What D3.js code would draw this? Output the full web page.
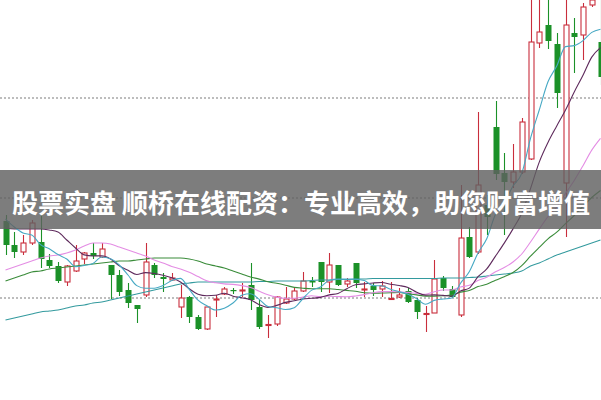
<!DOCTYPE html>
<html><head><meta charset="utf-8">
<script src="https://cdn.jsdelivr.net/npm/d3@7"></script>
<style>html,body{margin:0;padding:0;background:#fff;overflow:hidden}</style>
</head><body>
<svg id="chart" width="601" height="400"></svg>
<script>
// ---- data (prices) ----
const opens  = [10.77,10.53,10.46,10.55,10.56,10.38,10.32,10.16,10.27,10.39,
                10.45,10.41,10.33,10.23,10.08,9.93,10.03,10.33,10.21,10.18,
                9.91,10.01,9.81,9.69,9.98,10.04,10.08,10.07,10.13,9.91,
                9.725,9.74,9.95,9.99,10.07,10.17,10.36,10.16,10.33,10.14,
                10.35,10.08,10.12,10.09,9.985,10.01,10.07,9.98,9.835,9.85,
                10.20,10.09,9.83,10.61,10.46,10.93,11.71,11.25,11.16,11.26,
                11.39,12.55,12.73,12.54,11.15,12.65,12.63,12.93,12.56];
const closes = [10.53,10.46,10.55,10.75,10.39,10.32,10.17,10.32,10.37,10.45,
                10.42,10.49,10.23,10.06,9.95,9.89,10.36,10.23,10.19,10.20,
                10.00,9.81,9.69,9.91,9.99,10.09,10.07,10.08,9.98,9.71,
                9.735,10.01,9.99,10.07,10.17,10.155,10.16,10.33,10.13,10.17,
                10.15,10.09,10.08,10.12,9.995,10.03,9.96,9.86,9.845,10.19,
                10.10,10.01,10.60,10.41,11.13,10.81,11.24,11.16,11.26,11.76,
                12.56,12.66,12.57,12.05,12.73,12.61,12.91,12.98,12.21];
const highs  = [10.83,10.66,10.63,10.78,10.86,10.44,10.36,10.33,10.53,10.46,
                10.55,10.55,10.33,10.28,10.15,9.93,10.55,10.35,10.25,10.25,
                10.13,10.02,9.83,9.91,10.03,10.11,10.10,10.15,10.35,9.98,
                9.83,10.02,10.11,10.11,10.26,10.21,10.36,10.45,10.33,10.20,
                10.35,10.16,10.15,10.17,10.16,10.10,10.10,10.00,9.92,10.38,
                10.22,10.12,11.13,10.71,11.86,11.03,11.97,11.45,11.54,11.80,
                13.03,13.03,13.03,12.65,13.03,12.80,12.95,13.03,13.03];
const lows   = [10.43,10.40,10.43,10.53,10.30,10.30,10.15,10.12,10.26,10.34,
                10.39,10.40,9.99,10.02,9.90,9.75,10.01,10.20,10.06,10.17,
                9.80,9.75,9.68,9.68,9.81,10.03,10.04,10.01,9.88,9.69,
                9.60,9.72,9.94,9.98,10.06,10.11,10.06,10.05,10.12,10.11,
                10.10,10.01,10.02,10.01,9.98,10.00,9.95,9.79,9.66,9.85,
                10.07,10.00,9.81,10.40,10.44,10.63,11.18,10.63,11.10,11.24,
                11.38,12.50,12.49,11.90,10.61,12.25,12.38,12.91,12.13];

const ma5  = [10.79,10.71,10.65,10.63,10.534,10.492,10.434,10.39,10.314,10.326,
              10.346,10.41,10.392,10.33,10.23,10.124,10.098,10.098,10.124,10.174,
              10.196,10.086,9.978,9.922,9.88,9.898,9.95,10.028,10.042,9.986,
              9.915,9.903,9.885,9.903,9.995,10.079,10.109,10.177,10.189,10.189,
              10.188,10.174,10.124,10.122,10.087,10.063,10.037,9.993,9.937,9.976,
              9.99,10.00,10.148,10.262,10.45,10.592,10.838,10.95,11.12,11.246,
              11.596,11.88,12.162,12.32,12.514,12.524,12.574,12.656,12.688];
const ma10 = [10.70,10.69,10.69,10.69,10.69,10.68,10.66,10.58,10.50,10.431,
              10.42,10.423,10.391,10.322,10.278,10.235,10.254,10.245,10.227,10.202,
              10.16,10.092,10.038,10.023,10.027,10.047,10.018,10.003,9.982,9.933,
              9.906,9.926,9.956,9.972,9.99,9.997,10.006,10.031,10.046,10.092,
              10.133,10.141,10.15,10.155,10.138,10.125,10.105,10.058,10.029,10.031,
              10.026,10.018,10.07,10.099,10.213,10.291,10.419,10.549,10.691,10.848,
              11.094,11.359,11.556,11.72,11.88,12.06,12.227,12.409,12.504];
const ma20 = [10.28,10.31,10.34,10.37,10.40,10.42,10.43,10.45,10.48,10.52,
              10.55,10.55,10.54,10.51,10.48,10.45,10.42,10.38,10.35,10.316,
              10.29,10.257,10.214,10.172,10.152,10.141,10.136,10.124,10.104,10.067,
              10.033,10.009,9.997,9.998,10.009,10.022,10.012,10.017,10.014,10.012,
              10.02,10.034,10.053,10.064,10.064,10.061,10.056,10.045,10.038,10.062,
              10.08,10.08,10.11,10.127,10.175,10.208,10.262,10.304,10.36,10.44,
              10.56,10.689,10.813,10.91,11.046,11.175,11.323,11.479,11.597];
const ma30 = [10.17,10.20,10.23,10.26,10.27,10.29,10.30,10.31,10.32,10.33,
              10.34,10.35,10.36,10.37,10.37,10.38,10.39,10.40,10.40,10.40,
              10.40,10.39,10.37,10.34,10.32,10.30,10.27,10.24,10.21,10.189,
              10.162,10.147,10.128,10.106,10.098,10.093,10.093,10.093,10.085,10.076,
              10.067,10.053,10.048,10.05,10.052,10.056,10.043,10.031,10.019,10.019,
              10.022,10.029,10.059,10.076,10.114,10.138,10.177,10.213,10.255,10.324,
              10.418,10.506,10.592,10.658,10.744,10.825,10.917,11.005,11.075];
const ma60 = [9.78,9.80,9.82,9.84,9.86,9.87,9.88,9.90,9.92,9.93,
              9.95,9.96,9.98,10.00,10.02,10.04,10.06,10.08,10.10,10.12,
              10.14,10.15,10.16,10.16,10.16,10.16,10.16,10.16,10.16,10.165,
              10.165,10.17,10.17,10.17,10.17,10.175,10.18,10.18,10.185,10.185,
              10.19,10.19,10.195,10.195,10.195,10.195,10.195,10.195,10.195,10.195,
              10.20,10.20,10.20,10.205,10.21,10.22,10.23,10.24,10.25,10.27,
              10.32,10.35,10.39,10.43,10.46,10.49,10.52,10.55,10.58];

const gridValues = [12, 11, 10];
const bannerText = "股票实盘 顺桥在线配资：专业高效，助您财富增值";

// ---- drawing ----
const W = 601, H = 400;
const svg = d3.select("#chart");
const x = d3.scaleLinear().domain([0, opens.length - 1]).range([5.5, 600.5]);
const y = d3.scaleLinear().domain([8.98, 12.98]).range([H, 0]);

const UP = "#c92e3c", DOWN = "#1b9128";

svg.append("rect").attr("width", W).attr("height", H).attr("fill", "#fff");

svg.append("g").selectAll("line").data(gridValues).join("line")
  .attr("x1", 0).attr("x2", W)
  .attr("y1", d => y(d)).attr("y2", d => y(d))
  .attr("stroke", "#a8a8a8").attr("stroke-width", 1.5)
  .attr("stroke-dasharray", "2,2");

const candles = opens.map((o, i) => ({i, o, c: closes[i], h: highs[i], l: lows[i]}));
const cg = svg.append("g");
const bw = 6;
candles.forEach(d => {
  const cx = Math.round(x(d.i)) + 0.5;
  const up = d.c >= d.o;
  const top = y(Math.max(d.o, d.c)), bot = y(Math.min(d.o, d.c));
  const col = up ? UP : DOWN;
  if (up) {
    cg.append("line").attr("x1", cx).attr("x2", cx).attr("y1", y(d.h)).attr("y2", top)
      .attr("stroke", col).attr("stroke-width", 1.1);
    cg.append("line").attr("x1", cx).attr("x2", cx).attr("y1", bot).attr("y2", y(d.l))
      .attr("stroke", col).attr("stroke-width", 1.1);
    cg.append("rect").attr("x", cx - bw / 2 + 0.5).attr("y", top)
      .attr("width", bw - 1).attr("height", Math.max(1, bot - top))
      .attr("fill", "#fff").attr("stroke", col).attr("stroke-width", 1.1);
  } else {
    cg.append("line").attr("x1", cx).attr("x2", cx).attr("y1", y(d.h)).attr("y2", y(d.l))
      .attr("stroke", col).attr("stroke-width", 1.1);
    cg.append("rect").attr("x", cx - bw / 2).attr("y", top)
      .attr("width", bw).attr("height", Math.max(1.2, bot - top))
      .attr("fill", col);
  }
});

const maSeries = [
  {v: ma60, color: "#339a9e"},
  {v: ma30, color: "#3a8c3a"},
  {v: ma20, color: "#e48de4"},
  {v: ma10, color: "#5e2a5c"},
  {v: ma5,  color: "#47a9c4"}
];
const line = d3.line().x((d, i) => x(i)).y(d => y(d)).curve(d3.curveMonotoneX);
svg.append("g").selectAll("path").data(maSeries).join("path")
  .attr("d", d => line(d.v))
  .attr("fill", "none").attr("stroke", d => d.color).attr("stroke-width", 1.1);

// banner
svg.append("rect").attr("x", 0).attr("y", 170).attr("width", W).attr("height", 59)
  .attr("fill", "rgba(96,96,96,0.82)");
svg.append("text").attr("x", 301).attr("y", 201)
  .attr("text-anchor", "middle").attr("dominant-baseline", "central")
  .attr("font-family", "'Noto Sans CJK SC', 'Noto Sans', sans-serif")
  .attr("font-weight", "bold").attr("font-size", 26).attr("fill", "#fff")
  .text(bannerText);
</script>
</body></html>
